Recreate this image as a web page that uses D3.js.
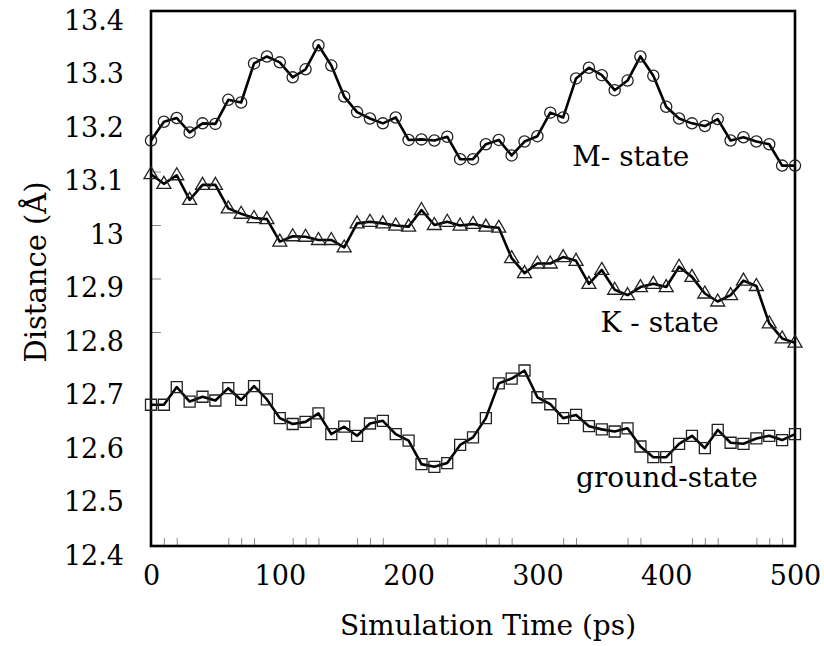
<!DOCTYPE html>
<html>
<head>
<meta charset="utf-8">
<script src="https://cdn.jsdelivr.net/npm/d3@7"></script>
<style>
  body { margin: 0; background: white; }
  text { font-family: "DejaVu Serif", serif; fill: black; }
</style>
</head>
<body>
<div id="chart"></div>
<script>
// simulation time points (ps)
let times = [0, 10, 20, 30, 40, 50, 60, 70, 80, 90, 100, 110, 120, 130, 140, 150, 160, 170, 180, 190,
  200, 210, 220, 230, 240, 250, 260, 270, 280, 290, 300, 310, 320, 330, 340, 350, 360, 370, 380, 390,
  400, 410, 420, 430, 440, 450, 460, 470, 480, 490, 500]

let mState = [13.158, 13.193, 13.200, 13.173, 13.190, 13.189, 13.234, 13.229, 13.302, 13.315,
  13.304, 13.276, 13.291, 13.336, 13.298, 13.240, 13.211, 13.199, 13.190, 13.201,
  13.159, 13.160, 13.158, 13.165, 13.123, 13.123, 13.151, 13.159, 13.130, 13.156,
  13.166, 13.210, 13.201, 13.274, 13.294, 13.280, 13.252, 13.270, 13.315, 13.279,
  13.221, 13.199, 13.190, 13.185, 13.198, 13.158, 13.164, 13.156, 13.151, 13.111, 13.111]

let kState = [13.095, 13.077, 13.093, 13.047, 13.075, 13.075, 13.031, 13.021, 13.013, 13.011,
  12.969, 12.979, 12.978, 12.972, 12.972, 12.958, 13.003, 13.006, 13.003, 12.999,
  12.997, 13.028, 13.000, 13.006, 12.999, 13.002, 12.997, 12.995, 12.938, 12.910,
  12.928, 12.928, 12.940, 12.933, 12.890, 12.916, 12.879, 12.869, 12.884, 12.890,
  12.884, 12.922, 12.903, 12.872, 12.857, 12.869, 12.896, 12.886, 12.816, 12.788, 12.780]

let groundState = [12.664, 12.664, 12.697, 12.670, 12.679, 12.672, 12.695, 12.673, 12.699, 12.674,
  12.639, 12.628, 12.632, 12.648, 12.609, 12.623, 12.606, 12.629, 12.634, 12.609,
  12.597, 12.553, 12.548, 12.555, 12.589, 12.603, 12.639, 12.704, 12.713, 12.728,
  12.678, 12.665, 12.639, 12.645, 12.624, 12.618, 12.614, 12.620, 12.586, 12.566,
  12.566, 12.591, 12.606, 12.583, 12.617, 12.593, 12.591, 12.601, 12.606, 12.598, 12.609]

let seriesNames = ["M- state", "K - state", "ground-state"]
let xTickLabels = [0, 100, 200, 300, 400, 500]
let xMinorTicks = [10, 20, 60, 70, 80, 110, 120, 130, 160, 170, 180, 220, 230, 260, 270, 280,
  320, 330, 370, 380, 420, 430, 440, 470, 480, 490]
let yTickLabels = [12.4, 12.5, 12.6, 12.7, 12.8, 12.9, 13.0, 13.1, 13.2, 13.3, 13.4]
let yMinorTicks = [12.8, 12.9, 13.0, 13.1]

let width = 824
let height = 646

let svg = d3.select("#chart").append("svg")
  .attr("width", width)
  .attr("height", height)

let x = d3.scaleLinear().domain([0, 500]).range([151, 795])
let y = d3.scaleLinear().domain([12.4, 13.4]).range([546, 11])

// small gray ticks inside the frame
svg.append("g")
  .attr("transform", `translate(0, ${y(12.4)})`)
  .call(d3.axisBottom(x).tickValues(xMinorTicks).tickSize(-8).tickFormat(""))
  .call(g => g.select(".domain").remove())
  .call(g => g.selectAll("line").attr("stroke", "#888").attr("stroke-width", 1))

svg.append("g")
  .attr("transform", `translate(${x(0)}, 0)`)
  .call(d3.axisLeft(y).tickValues(yMinorTicks).tickSize(-10).tickFormat(""))
  .call(g => g.select(".domain").remove())
  .call(g => g.selectAll("line").attr("stroke", "#888").attr("stroke-width", 1))

// tick labels
svg.append("g")
  .attr("transform", `translate(0, ${y(12.4)})`)
  .call(d3.axisBottom(x).tickValues(xTickLabels).tickSize(0).tickPadding(0).tickFormat(d3.format("d")))
  .call(g => g.select(".domain").remove())
  .call(g => g.selectAll("text")
    .attr("dy", null).attr("y", 39)
    .style("font-family", "DejaVu Serif").style("font-size", "27px").attr("fill", "black"))

svg.append("g")
  .attr("transform", `translate(${x(0)}, 0)`)
  .call(d3.axisLeft(y).tickValues(yTickLabels).tickSize(0).tickPadding(27).tickFormat(d => d === 13 ? "13" : d3.format(".1f")(d)))
  .call(g => g.select(".domain").remove())
  .call(g => g.selectAll("text")
    .attr("dy", null).attr("y", 18)
    .style("font-family", "DejaVu Serif").style("font-size", "27px").attr("fill", "black"))

// frame
svg.append("rect")
  .attr("x", x(0))
  .attr("y", y(13.4))
  .attr("width", x(500) - x(0))
  .attr("height", y(12.4) - y(13.4))
  .attr("fill", "none")
  .attr("stroke", "black")
  .attr("stroke-width", 2.6)

let line = d3.line()
  .x((d, i) => x(times[i]))
  .y(d => y(d))

let series = [
  { values: mState, marker: "circle" },
  { values: kState, marker: "triangle" },
  { values: groundState, marker: "square" }
]

let markerPath = {
  circle: d3.symbol().type(d3.symbolCircle).size(Math.PI * 5.6 * 5.6)(),
  square: "M-5.5,-5.5H5.5V5.5H-5.5Z",
  triangle: "M0,-7.5L7,4.5H-7Z"
}

series.forEach(s => {
  svg.append("path")
    .datum(s.values)
    .attr("d", line)
    .attr("fill", "none")
    .attr("stroke", "black")
    .attr("stroke-width", 2.6)
    .attr("stroke-linejoin", "round")

  svg.append("g")
    .selectAll("path")
    .data(s.values)
    .join("path")
    .attr("transform", (d, i) => `translate(${x(times[i])}, ${y(d)})`)
    .attr("d", markerPath[s.marker])
    .attr("fill", "none")
    .attr("stroke", "#222")
    .attr("stroke-width", 1.3)
})

// series labels, placed in data units
let labelAt = [[327, 13.110], [349, 12.800], [330, 12.511]]

svg.append("g")
  .selectAll("text")
  .data(seriesNames)
  .join("text")
  .attr("x", (d, i) => x(labelAt[i][0]))
  .attr("y", (d, i) => y(labelAt[i][1]))
  .style("font-size", "28px")
  .text(d => d)

// axis titles
svg.append("text")
  .attr("x", 488)
  .attr("y", 635)
  .attr("text-anchor", "middle")
  .style("font-size", "28px")
  .text("Simulation Time (ps)")

svg.append("text")
  .attr("transform", "translate(46, 272) rotate(-90)")
  .attr("text-anchor", "middle")
  .style("font-size", "29px")
  .text("Distance (Å)")
</script>
</body>
</html>
